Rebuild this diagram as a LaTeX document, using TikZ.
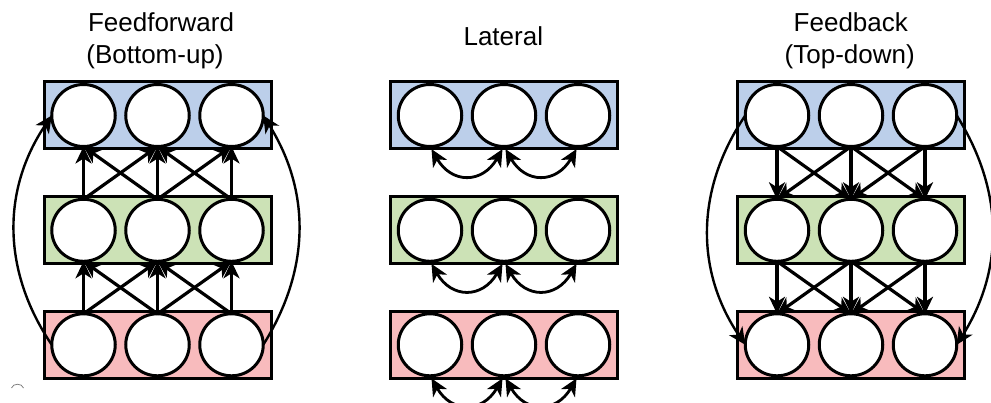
\documentclass[tikz,border=0pt]{standalone}
\usepackage{fontspec}
\setmainfont{Liberation Sans}
\usetikzlibrary{arrows.meta,shapes.geometric}

\definecolor{topfill}{HTML}{BCCFEA}
\definecolor{midfill}{HTML}{CCE2B6}
\definecolor{botfill}{HTML}{F8BBBD}

\begin{document}
\begin{tikzpicture}[x=1pt,y=1pt,
  layer/.style={draw=black, line width=3pt, minimum width=227pt,
    minimum height=67pt, inner sep=0pt, outer sep=0pt},
  unit/.style={ellipse, draw=black, fill=white, line width=3pt,
    minimum width=63.5pt, minimum height=62pt, inner sep=0pt, outer sep=0pt},
  link/.style={line width=3.2pt, -{Stealth[length=17pt,width=16pt,inset=5pt]}},
  longlink/.style={line width=2.4pt, -{Stealth[length=17pt,width=16pt,inset=5pt]}},
  sidelink/.style={line width=2.8pt,
    {Stealth[length=17pt,width=16pt,inset=5pt]}-{Stealth[length=17pt,width=16pt,inset=5pt]},
    shorten <=3pt, shorten >=3pt},
  title/.style={anchor=base, inner sep=0pt, font=\fontsize{26}{31}\selectfont}
]
\useasboundingbox (0,0) rectangle (991,-403);
\clip (0,0) rectangle (991,-403);

% titles
\node[title] (ffa) at (161,-31.7) {Feedforward};
\node[title] (ffb) at (155,-63.3) {(Bottom-up)};
\node[title] (lta) at (503.3,-46) {Lateral};
\node[title] (fba) at (850.8,-31.7) {Feedback};
\node[title] (fbb) at (849.7,-63.3) {(Top-down)};

% three panels, each with three layers of three units
\foreach \p/\px in {ff/157.5, lat/504, fb/851}{
  \foreach \r/\ry/\c in {t/115.5/topfill, m/230.3/midfill, b/344.8/botfill}{
    \node[layer, fill=\c] (\p\r) at (\px,-\ry) {};
    \foreach \k/\dx in {1/-74, 2/0, 3/74}
      \node[unit] (\p\r\k) at (\px+\dx,-\ry) {};
  }
}

% feedforward: lower layer to upper layer
\foreach \lo/\hi in {m/t, b/m}
  \foreach \i/\j in {1/1, 1/2, 2/1, 2/2, 2/3, 3/2, 3/3}
    \draw[link] (ff\lo\i.north) -- (ff\hi\j.south);
\draw[longlink] (ffb1.west) to[bend left=34] (fft1.west);
\draw[longlink] (ffb3.east) to[bend right=32] (fft3.east);

% lateral: neighbours within a layer
\foreach \r in {t, m, b}
  \foreach \i/\j in {1/2, 2/3}
    \draw[sidelink] (lat\r\i.south) to[out=-60, in=-120, looseness=1.5] (lat\r\j.south);

% feedback: upper layer to lower layer
\foreach \hi/\lo in {t/m, m/b}
  \foreach \i/\j in {1/1, 1/2, 2/1, 2/2, 2/3, 3/2, 3/3}
    \draw[link] (fb\hi\i.south) -- (fb\lo\j.north);
\draw[longlink] (fbt1.west) to[bend right=34] (fbb1.west);
\draw[longlink] (fbt3.east) to[bend left=32] (fbb3.east);

% small stray mark
\draw[gray, line width=0.8pt] (11.5,-388) .. controls (13,-383) and (22,-383) .. (23.5,-388);
\end{tikzpicture}
\end{document}
